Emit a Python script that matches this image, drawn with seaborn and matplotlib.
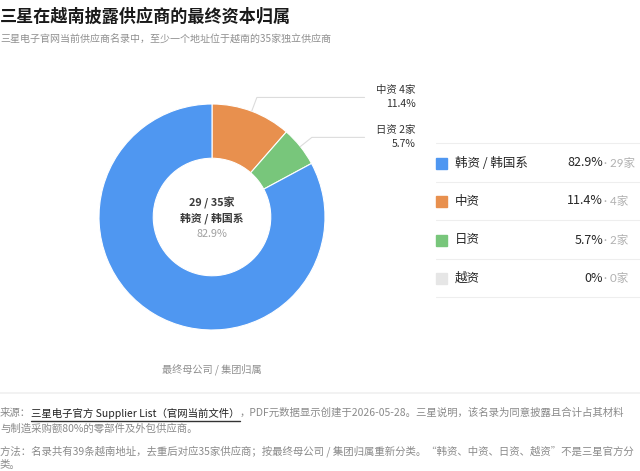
import matplotlib
matplotlib.use("Agg")
import matplotlib.pyplot as plt
from matplotlib.lines import Line2D
import numpy as np
import seaborn as sns

# data
categories = ["中资", "日资", "韩资 / 韩国系", "越资"]
counts = [4, 2, 29, 0]
total_suppliers = 35
legend_order = ["韩资 / 韩国系", "中资", "日资", "越资"]
short_names = {"中资": "中资", "日资": "日资"}
palette = {"韩资 / 韩国系": "#4f97f1", "中资": "#e8904e", "日资": "#78c67b", "越资": "#e6e6e6"}

title = "三星在越南披露供应商的最终资本归属"
subtitle = "三星电子官网当前供应商名录中，至少一个地址位于越南的35家独立供应商"
caption = "最终母公司 / 集团归属"

sns.set_theme(style="white")
plt.rcParams["font.family"] = ["Noto Sans CJK SC", "DejaVu Sans"]

W, H = 640, 471
fig = plt.figure(figsize=(W / 100, H / 100), dpi=100)
fig.patch.set_facecolor("white")


def fx(x):
    return x / W


def fy(y):
    return 1 - y / H


def pct(n):
    p = n / total_suppliers * 100
    return "0%" if n == 0 else f"{p:.1f}%"


# title block
fig.text(fx(0), fy(17), title, fontsize=12.3, fontweight="bold", color="#1a1a1a", va="center")
fig.text(fx(0), fy(40), subtitle, fontsize=7.2, color="#8f8f8f", va="center")

# donut
cx, cy, R = 212, 217, 113
ax = fig.add_axes([fx(cx - R), fy(cy + R), 2 * R / W, 2 * R / H])
shown = [(c, n) for c, n in zip(categories, counts) if n > 0]
wedges, _ = ax.pie(
    [n for _, n in shown],
    colors=[palette[c] for c, _ in shown],
    startangle=90,
    counterclock=False,
    wedgeprops=dict(width=0.48, edgecolor="white", linewidth=0.8),
)
ax.set_xlim(-1, 1)
ax.set_ylim(-1, 1)
ax.set_aspect("equal")

# leader labels for the small slices
for (cat, n), w in zip(shown, wedges):
    if cat not in short_names:
        continue
    theta = np.deg2rad((w.theta1 + w.theta2) / 2)
    p0 = np.array([np.cos(theta), np.sin(theta)]) * 1.0
    p1 = np.array([np.cos(theta), np.sin(theta)]) * 1.13
    ax.plot([p0[0], p1[0], 1.35], [p0[1], p1[1], p1[1]], color="#dcdcdc",
            lw=0.8, clip_on=False)
    ax.text(1.80, p1[1] + 0.062, f"{short_names[cat]} {n}家", ha="right", va="center",
            fontsize=7.5, color="#333333", clip_on=False)
    ax.text(1.80, p1[1] - 0.062, pct(n), ha="right", va="center",
            fontsize=7.5, color="#333333", clip_on=False)

main_cat = "韩资 / 韩国系"
main_n = counts[categories.index(main_cat)]
ax.text(0, 0.125, f"{main_n} / {total_suppliers}家", ha="center", va="center",
        fontsize=7.8, color="#3a3a3a", fontweight="bold")
ax.text(0, -0.01, main_cat, ha="center", va="center", fontsize=7.8,
        color="#3a3a3a", fontweight="bold")
ax.text(0, -0.15, pct(main_n), ha="center", va="center", fontsize=7.8, color="#a0a0a0")

fig.text(fx(212), fy(369), caption, ha="center", va="center", fontsize=7.3, color="#8f8f8f")

# legend table
row_y = [163, 201, 240, 278]
line_y = [143, 182, 220, 259, 297]
for y in line_y:
    fig.add_artist(Line2D([fx(436), fx(640)], [fy(y), fy(y)], color="#eeeeee", lw=0.8))
for cat, y in zip(legend_order, row_y):
    n = counts[categories.index(cat)]
    fig.patches.append(plt.Rectangle((fx(436), fy(y + 5.5)), 11 / W, 11 / H,
                                     transform=fig.transFigure, color=palette[cat]))
    fig.text(fx(455), fy(y), cat, va="center", fontsize=9, color="#262626")
    fig.text(fx(603), fy(y), pct(n), va="center", ha="right", fontsize=9, color="#262626")
    fig.text(fx(604), fy(y), f"· {n}家", va="center", ha="left", fontsize=8.3,
             color="#b0b0b0", family=["Lato", "Noto Sans CJK SC"])

# separator + footer
fig.add_artist(Line2D([0, 1], [fy(393), fy(393)], color="#f0f0f0", lw=1.2))

renderer = fig.canvas.get_renderer()


def text_runs(x, y, runs, size=7.5):
    for s, color, underline in runs:
        t = fig.text(fx(x), fy(y), s, va="center", fontsize=size, color=color,
                     fontweight="medium" if underline else "normal")
        bb = t.get_window_extent(renderer)
        if underline:
            fig.add_artist(Line2D([bb.x0 / W, bb.x1 / W], [fy(y + 7.5), fy(y + 7.5)],
                                  color="#333333", lw=1.0))
        x += bb.width


grey = "#8a8a8a"
text_runs(0, 413, [("来源：", grey, False),
                   ("三星电子官方 Supplier List（官网当前文件）", "#222222", True),
                   ("，PDF元数据显示创建于2026-05-28。三星说明，该名录为同意披露且合计占其材料", grey, False)])
text_runs(0, 428, [("与制造采购额80%的零部件及外包供应商。", grey, False)])
text_runs(0, 451, [("方法：名录共有39条越南地址，去重后对应35家供应商；按最终母公司 / 集团归属重新分类。“韩资、中资、日资、越资”不是三星官方分", grey, False)])
text_runs(0, 465, [("类。", grey, False)])

fig.savefig("out.png", dpi=100)
